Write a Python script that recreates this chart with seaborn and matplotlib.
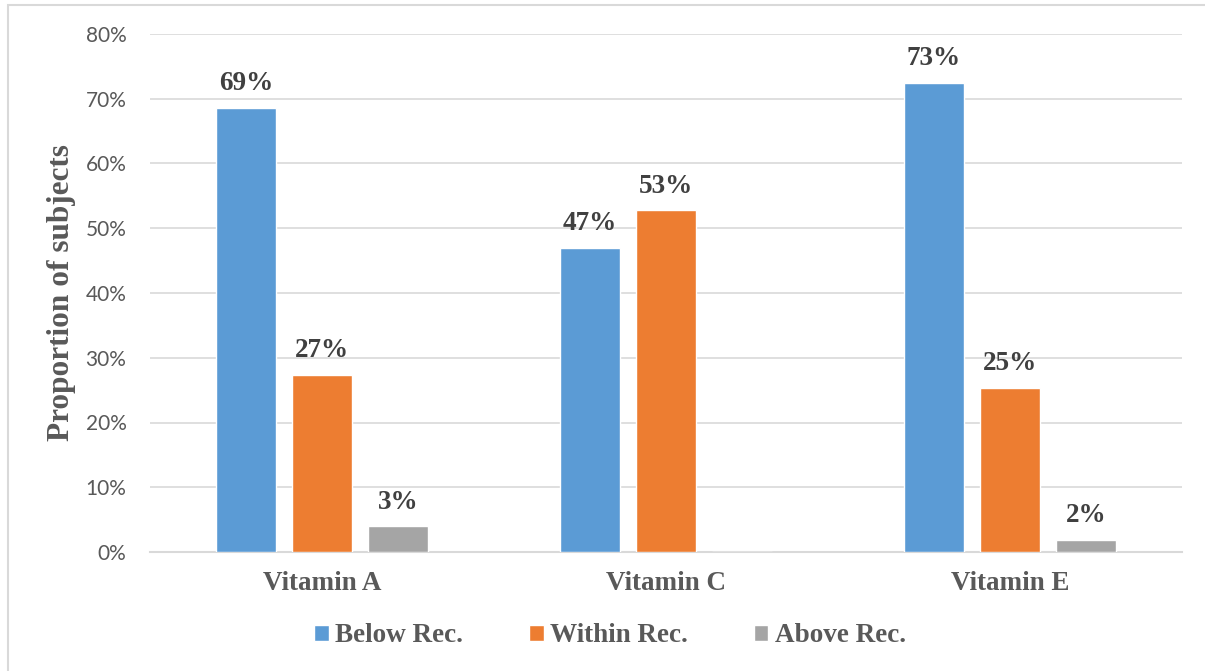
import matplotlib
matplotlib.use("Agg")
import matplotlib.pyplot as plt
import seaborn as sns
import pandas as pd
from matplotlib.patches import Rectangle
from matplotlib.ticker import FuncFormatter

categories = ["Vitamin A", "Vitamin C", "Vitamin E"]
series = ["Below Rec.", "Within Rec.", "Above Rec."]
below = [68.6, 47.0, 72.5]
within = [27.4, 52.8, 25.4]
above = [4.0, 0.0, 1.9]
below_labels = ["69%", "47%", "73%"]
within_labels = ["27%", "53%", "25%"]
above_labels = ["3%", "", "2%"]
colors = ["#5B9BD5", "#ED7D31", "#A5A5A5"]
y_ticks = [0, 10, 20, 30, 40, 50, 60, 70, 80]

rows = []
for s, vals in zip(series, [below, within, above]):
    for c, v in zip(categories, vals):
        rows.append({"Nutrient": c, "Group": s, "Value": v})
df = pd.DataFrame(rows)

sns.set_theme(style="white")
SERIF = ["Liberation Serif", "DejaVu Serif"]
SANS = ["Lato", "DejaVu Sans"]
TXT = "#595959"
GRID = "#D9D9D9"
FS = 19.5

W, H = 1205, 671
fig = plt.figure(figsize=(W / 100, H / 100), dpi=100)
fig.patch.set_facecolor("white")
ax = fig.add_axes([150 / W, 1 - 552 / H, (1182 - 150) / W, (552 - 34) / H])

sns.barplot(data=df, x="Nutrient", y="Value", hue="Group", order=categories,
            hue_order=series, palette=colors, width=0.663, gap=0.21,
            saturation=1, errorbar=None, ax=ax, zorder=3)

ax.set_ylim(0, 80)
ax.set_xlim(-0.5, 2.5)
ax.set_yticks(y_ticks)
ax.yaxis.set_major_formatter(FuncFormatter(lambda v, p: f"{v:.0f}%"))
ax.grid(axis="y", color=GRID, linewidth=1.2, zorder=0)
ax.set_axisbelow(True)
for side in ["left", "top", "right"]:
    ax.spines[side].set_visible(False)
ax.spines["bottom"].set_color(GRID)
ax.spines["bottom"].set_linewidth(1.5)

ax.tick_params(axis="y", length=0, pad=17, labelsize=15, labelcolor=TXT)
for t in ax.get_yticklabels():
    t.set_family(SANS)
ax.tick_params(axis="x", which="major", length=0, pad=14)
ax.set_xticks([-0.5, 0.5, 1.5, 2.5], minor=True)
ax.tick_params(axis="x", which="minor", length=7, width=1.5, color=GRID)
ax.set_xticklabels(categories, family=SERIF, fontsize=FS, fontweight="bold", color=TXT)
ax.set_xlabel("")
ax.set_ylabel("Proportion of subjects", family=SERIF, fontsize=22.5,
              fontweight="bold", color=TXT, va="center")
ax.yaxis.set_label_coords((62 - 150) / (1182 - 150), 0.5)

for cont, labs in zip(ax.containers, [below_labels, within_labels, above_labels]):
    for bar, lab in zip(cont, labs):
        if not lab:
            continue
        ax.annotate(lab, (bar.get_x() + bar.get_width() / 2, bar.get_height()),
                    xytext=(0, 12.5), textcoords="offset points", ha="center",
                    va="baseline", family=SERIF, fontsize=FS, fontweight="bold",
                    color="#404040")

handles, labels = ax.get_legend_handles_labels()
if ax.get_legend() is not None:
    ax.get_legend().remove()
leg = fig.legend(handles, labels, loc="center", bbox_to_anchor=(610 / W, 1 - 636 / H),
                 ncol=3, frameon=False, handlelength=0.53, handleheight=0.53,
                 handletextpad=0.23, columnspacing=2.45,
                 prop={"family": SERIF, "size": FS, "weight": "bold"})
for t in leg.get_texts():
    t.set_color(TXT)

fig.patches.append(Rectangle((8 / W, -0.1), 1.2, (1 - 5 / H) + 0.1, fill=False,
                             edgecolor=GRID, linewidth=1.5,
                             transform=fig.transFigure, figure=fig))

fig.savefig("out.png", dpi=100, facecolor="white")
